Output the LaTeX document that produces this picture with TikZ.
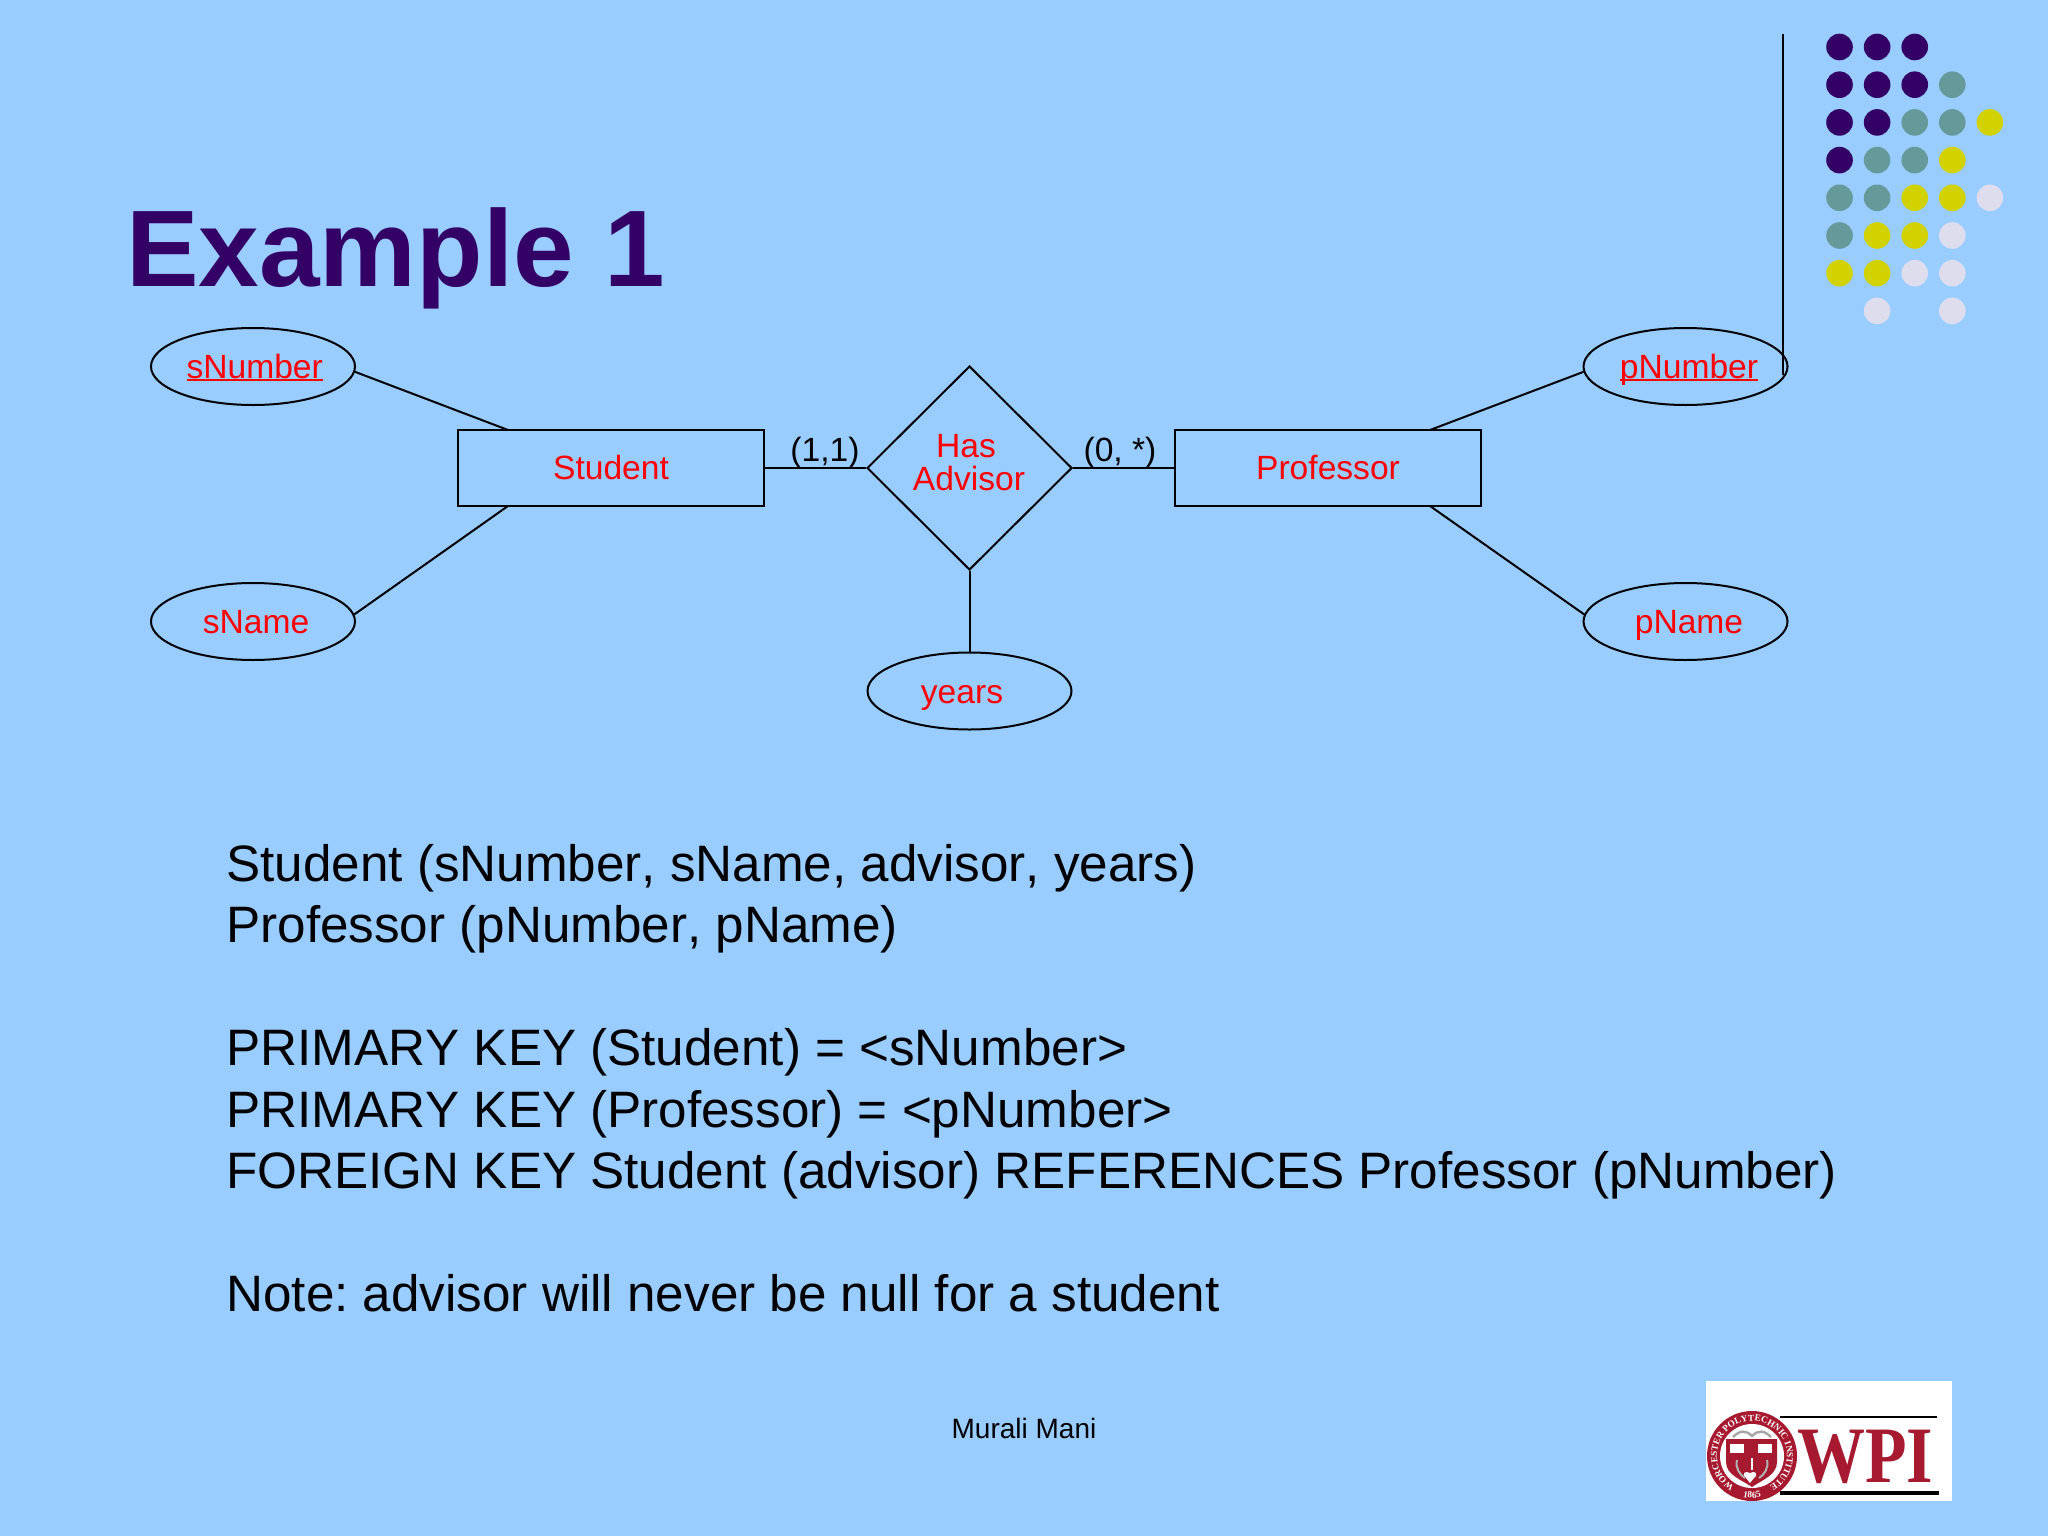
\documentclass[tikz,border=0pt]{standalone}
\usepackage{fontspec}
\usepackage{tikz}
\usepackage{xcolor}
\setmainfont{Liberation Sans}[Kerning=Off]
\newfontfamily\sealfont{Liberation Serif}
\usetikzlibrary{shapes,decorations.text}
\definecolor{slidebg}{HTML}{99CCFF}
\definecolor{titleink}{HTML}{330066}
\definecolor{dotteal}{HTML}{669999}
\definecolor{dotyellow}{HTML}{D2D200}
\definecolor{dotpale}{HTML}{DDDDEE}
\definecolor{wpired}{HTML}{A6192E}
\newcommand{\keyname}[1]{{\setbox0\hbox{#1}\rlap{\rule[-1.6pt]{\wd0}{0.9pt}}\box0}}
\tikzstyle{attr}	=[ellipse,draw=black,line width=1pt,minimum width=102pt,minimum height=38.5pt,inner sep=0pt]
\tikzstyle{entity}	=[rectangle,draw=black,line width=1pt,minimum width=153pt,minimum height=38pt,inner sep=0pt]
\tikzstyle{rel}		=[diamond,draw=black,line width=1pt,minimum width=102.5pt,minimum height=102pt,inner sep=0pt]
\tikzstyle{ertext}	=[text=red,font=\fontsize{16.8}{16.8}\selectfont,anchor=base,inner sep=0pt]
\tikzstyle{cardtext}	=[text=black,font=\fontsize{16.8}{16.8}\selectfont,anchor=base,inner sep=0pt]
\tikzstyle{edgeer}	=[draw=black,line width=1pt]
\begin{document}
\frenchspacing
\begin{tikzpicture}[x=0.5pt,y=-0.5pt]
	\useasboundingbox (0,0) rectangle (2048,1536);
	\fill[slidebg] (0,0) rectangle (2048,1536);

	%%%%% Corner dots (rows top to bottom)
	\foreach \col/\row/\clr in {1/1/titleink,2/1/titleink,3/1/titleink,
		1/2/titleink,2/2/titleink,3/2/titleink,4/2/dotteal,
		1/3/titleink,2/3/titleink,3/3/dotteal,4/3/dotteal,5/3/dotyellow,
		1/4/titleink,2/4/dotteal,3/4/dotteal,4/4/dotyellow,
		1/5/dotteal,2/5/dotteal,3/5/dotyellow,4/5/dotyellow,5/5/dotpale,
		1/6/dotteal,2/6/dotyellow,3/6/dotyellow,4/6/dotpale,
		1/7/dotyellow,2/7/dotyellow,3/7/dotpale,4/7/dotpale,
		2/8/dotpale,4/8/dotpale}
	\fill[\clr] ({1839.5+37.6*(\col-1)},{47+37.7*(\row-1)}) circle (6.65pt);

	\coordinate (ruleTop) at (1783,34);
	\coordinate (ruleEnd) at (1783,375);
	\path[edgeer] (ruleTop) -- (ruleEnd);

	\node[anchor=base west,inner sep=0pt,text=titleink,font=\fontsize{54.4}{54.4}\selectfont\bfseries] (title) at (126,286) {Example 1};

	%%%%% Attributes
	\foreach \pos/\name in {{(253,366.5)/sNumber}, {(253,621.5)/sName}, {(1685.5,366.5)/pNumber}, {(1685.5,621.5)/pName}, {(969.5,691)/years}}
	\node[attr] (\name) at \pos {};

	\node[entity] (student) at (611,468) {};
	\node[entity] (professor) at (1328,468) {};
	\node[rel] (advisor) at (969.5,468) {};

	\node[ertext] (tsNumber) at (254.7,378) {\keyname{sNumber}};
	\node[ertext] (tsName) at (256,633) {sName};
	\node[ertext] (tpNumber) at (1689,378) {\keyname{pNumber}};
	\node[ertext] (tpName) at (1689,633) {pName};
	\node[ertext] (tyears) at (962,703) {years};
	\node[ertext] (tstudent) at (611,479) {Student};
	\node[ertext] (tprofessor) at (1328,479) {Professor};
	\node[ertext] (thas) at (966,457) {Has};
	\node[ertext] (tadvisor) at (969,490) {Advisor};
	\node[cardtext] (cardL) at (825,461) {(1,1)};
	\node[cardtext] (cardR) at (1120,461) {(0, *)};

	%%%% Links
	\coordinate (stuTop) at (508,430);
	\coordinate (stuBot) at (508,506);
	\coordinate (proTop) at (1430,430);
	\coordinate (proBot) at (1430,506);
	\foreach \source/ \dest in {sNumber.-3/stuTop,sName.4/stuBot,pNumber.183/proTop,pName.176/proBot,student/advisor,advisor/professor}	\path[edgeer] (\source) -- (\dest);
	\path[edgeer] (advisor.south) -- (years.north);

	%%%% Schema text
	\node[anchor=north west,inner sep=0pt,align=left,font=\fontsize{25.6}{30.7}\selectfont] (schema) at (226,844) {Student (sNumber, sName, advisor, years)\\
		Professor (pNumber, pName)\\
		\mbox{}\\
		PRIMARY KEY (Student) = <sNumber>\\
		PRIMARY KEY (Professor) = <pNumber>\\
		FOREIGN KEY Student (advisor) REFERENCES Professor (pNumber)\\
		\mbox{}\\
		Note: advisor will never be null for a student};

	\node[anchor=base,inner sep=0pt,font=\fontsize{14}{14}\selectfont] (footer) at (1024,1438) {Murali Mani};

	%%%% Logo
	\node[rectangle,fill=white,minimum width=123pt,minimum height=60pt,inner sep=0pt] (logo) at (1829,1441) {};
	\node[circle,fill=wpired,minimum size=45pt,inner sep=0pt] (seal) at (1752,1456) {};
	\node[circle,fill=white,minimum size=32pt,inner sep=0pt] (sealIn) at (1752,1456) {};
	\fill[wpired] (1726,1439) -- (1777,1439) -- (1777,1462) .. controls (1777,1475) and (1762,1480) .. (1752,1487) .. controls (1742,1480) and (1726,1475) .. (1726,1462) -- cycle;
	\fill[white] (1730,1444) rectangle (1744,1453);
	\fill[white] (1758,1444) rectangle (1772,1453);
	\fill[white] (1746,1478) .. controls (1741,1474) and (1745,1470) .. (1750,1473) .. controls (1755,1470) and (1759,1474) .. (1754,1478) -- (1750,1483) -- cycle;
	\draw[gray!60,line width=1pt] (1737,1460) .. controls (1735,1468) and (1740,1475) .. (1745,1478);
	\draw[gray!60,line width=1pt] (1767,1460) .. controls (1769,1468) and (1764,1475) .. (1759,1478);
	\draw[white,line width=1pt] (1752,1458) -- (1752,1470);
	\draw[gray!70,line width=1.2pt] (1733,1437) .. controls (1740,1430) and (1746,1430) .. (1752,1436) .. controls (1758,1430) and (1764,1430) .. (1771,1437);
	\path[decorate,decoration={text along path,text align=center,text={|\sealfont\bfseries\fontsize{4.6}{4.6}\selectfont\color{white}|WORCESTER POLYTECHNIC INSTITUTE}}] (seal.center) ++(235:17.5pt) arc[start angle=235,end angle=-55,radius=17.5pt];
	\path[decorate,decoration={text along path,text align=center,text={|\sealfont\bfseries\fontsize{4.6}{4.6}\selectfont\color{white}|1865}}] (seal.center) ++(240:21pt) arc[start angle=240,end angle=300,radius=21pt];
	\node[anchor=base west,inner sep=0pt,text=wpired,xscale=0.85,font=\sealfont\bfseries\fontsize{40}{40}\selectfont] (wpi) at (1797,1482) {WPI};
	\coordinate (barA) at (1780,1417);
	\coordinate (barB) at (1937,1417);
	\coordinate (barC) at (1780,1493);
	\coordinate (barD) at (1939,1493);
	\path[draw=black,line width=1.2pt] (barA) -- (barB);
	\path[draw=black,line width=2pt] (barC) -- (barD);
\end{tikzpicture}
\end{document}
